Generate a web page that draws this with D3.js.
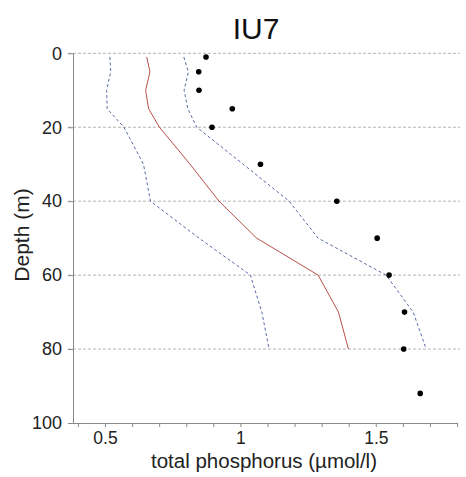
<!DOCTYPE html>
<html>
<head>
<meta charset="utf-8">
<script src="https://cdn.jsdelivr.net/npm/d3@7"></script>
<style>
  html, body { margin: 0; padding: 0; background: #fff; }
  svg { display: block; font-family: "Liberation Sans", Arial, sans-serif; }
</style>
</head>
<body>
<svg id="chart" width="466" height="477"></svg>
<script>
// ---- data ----
const title = "IU7";
const xLabel = "total phosphorus (µmol/l)";
const yLabel = "Depth (m)";

// model profile depths (m)
const profileDepths = [1, 5, 10, 15, 20, 30, 40, 50, 60, 70, 80];
const medianTP = [0.654, 0.666, 0.650, 0.661, 0.701, 0.814, 0.921, 1.060, 1.287, 1.362, 1.399];
const lowerTP  = [0.518, 0.521, 0.506, 0.508, 0.570, 0.642, 0.668, 0.847, 1.037, 1.079, 1.106];
const upperTP  = [0.791, 0.808, 0.792, 0.806, 0.839, 1.010, 1.180, 1.287, 1.538, 1.638, 1.686];

// observations
const obsDepths = [1, 5, 10, 15, 20, 30, 40, 50, 60, 70, 80, 92];
const obsTP     = [0.873, 0.846, 0.847, 0.970, 0.895, 1.074, 1.356, 1.505, 1.549, 1.606, 1.603, 1.664];

const xMajorTicks = [0.5, 1, 1.5];
const xTickLabels = ["0.5", "1", "1.5"];
const xMinorTicks = [0.4, 0.5, 0.6, 0.7, 0.8, 0.9, 1.0, 1.1, 1.2, 1.3, 1.4, 1.5, 1.6, 1.7, 1.8];
const yTicks = [0, 20, 40, 60, 80, 100];
const yGrid = [0, 20, 40, 60, 80];

// ---- layout ----
const svg = d3.select("#chart");
const mLeft = 74, mRight = 458, mTop = 53.3, mBottom = 423;

const x = d3.scaleLinear().domain([0.3855, 1.8035]).range([mLeft, mRight]);
const y = d3.scaleLinear().domain([0, 100]).range([mTop, mBottom]);

const axisColor = "#8a8a8a";

// gridlines
svg.append("g").selectAll("line").data(yGrid).join("line")
  .attr("x1", mLeft - 6).attr("x2", 460)
  .attr("y1", d => y(d)).attr("y2", d => y(d))
  .attr("stroke", "#b4b4b4").attr("stroke-width", 1)
  .attr("stroke-dasharray", "3,2");

// y axis
const yAxis = d3.axisLeft(y).tickValues(yTicks).tickSize(6).tickPadding(6).tickFormat(d3.format("d"));
const gy = svg.append("g").attr("transform", `translate(${mLeft},0)`).call(yAxis);
gy.select(".domain").attr("stroke", axisColor).attr("d", `M-0.5,${mTop}V${mBottom}`);
gy.selectAll(".tick line").attr("stroke", axisColor);
gy.selectAll(".tick text").attr("font-size", 18).attr("fill", "#222")
  .attr("font-family", "'Liberation Sans', Arial, sans-serif");

// x axis (minor ticks)
const xAxisMinor = d3.axisBottom(x).tickValues(xMinorTicks).tickSize(4).tickFormat("");
const gxm = svg.append("g").attr("transform", `translate(0,${mBottom})`).call(xAxisMinor);
gxm.select(".domain").attr("stroke", axisColor).attr("d", `M${mLeft},0.5H${mRight}`);
gxm.selectAll(".tick line").attr("stroke", axisColor);

// x axis labels
const xAxis = d3.axisBottom(x).tickValues(xMajorTicks).tickSize(0).tickPadding(9)
  .tickFormat((d, i) => xTickLabels[i]);
const gx = svg.append("g").attr("transform", `translate(0,${mBottom})`).call(xAxis);
gx.select(".domain").remove();
gx.selectAll(".tick text").attr("font-size", 17.5).attr("fill", "#222")
  .attr("font-family", "'Liberation Sans', Arial, sans-serif");

// lines
const line = d3.line().x(d => x(d[0])).y(d => y(d[1]));
const mk = arr => arr.map((v, i) => [v, profileDepths[i]]);

svg.append("path").datum(mk(lowerTP)).attr("d", line)
  .attr("fill", "none").attr("stroke", "#5868a8").attr("stroke-width", 1)
  .attr("stroke-dasharray", "3,2.5");
svg.append("path").datum(mk(upperTP)).attr("d", line)
  .attr("fill", "none").attr("stroke", "#5868a8").attr("stroke-width", 1)
  .attr("stroke-dasharray", "3,2.5");
svg.append("path").datum(mk(medianTP)).attr("d", line)
  .attr("fill", "none").attr("stroke", "#b8504c").attr("stroke-width", 1);

// observations
svg.append("g").selectAll("circle").data(obsTP.map((v, i) => [v, obsDepths[i]])).join("circle")
  .attr("cx", d => x(d[0])).attr("cy", d => y(d[1])).attr("r", 2.8).attr("fill", "#000");

// title
svg.append("text").attr("x", 256).attr("y", 38.5).attr("text-anchor", "middle")
  .attr("font-size", 30).attr("fill", "#111").text(title);

// axis titles
svg.append("text").attr("x", 264).attr("y", 467.5).attr("text-anchor", "middle")
  .attr("font-size", 20.5).attr("fill", "#222").text(xLabel);
svg.append("text").attr("transform", "translate(29,235) rotate(-90)").attr("text-anchor", "middle")
  .attr("font-size", 21).attr("fill", "#222").text(yLabel);
</script>
</body>
</html>
